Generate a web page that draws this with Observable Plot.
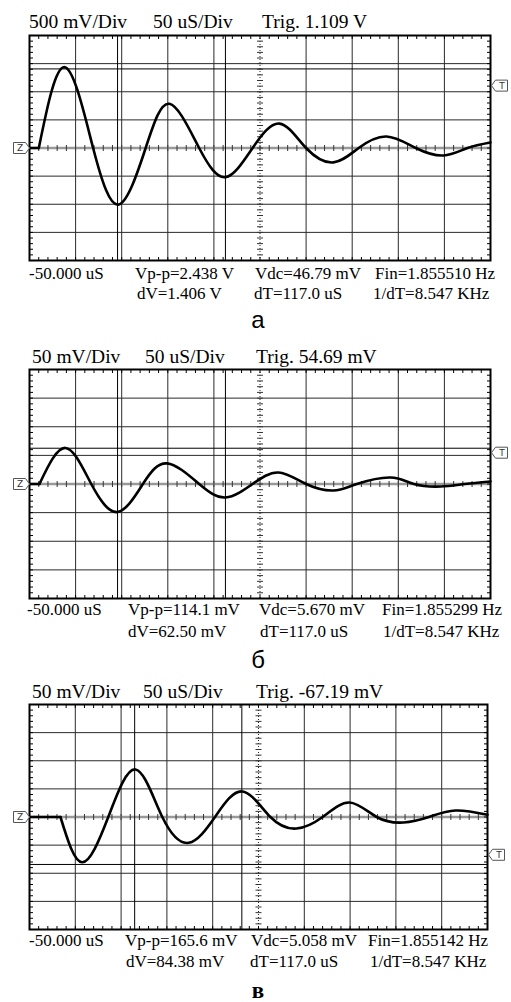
<!DOCTYPE html>
<html><head><meta charset="utf-8">
<script src="https://cdn.jsdelivr.net/npm/d3@7"></script>
<script src="https://cdn.jsdelivr.net/npm/@observablehq/plot@0.6"></script>
<style>
body{margin:0;background:#fff;}
#page{position:relative;width:511px;height:1002px;overflow:hidden;font-family:"Liberation Serif","Times New Roman",serif;color:#000;}
.t{position:absolute;white-space:nowrap;line-height:1;}
.h{font-size:19.5px;}
.f{font-size:17px;}
.cap{font-size:24px;}
#page svg{position:absolute;left:0;}
</style></head><body><div id="page"></div>
<script>
// ---------- data (time in uS; voltage in V for panel a, mV for panels б and в) ----------
// points: trigger start, peaks, troughs and zero crossings
const p1Time = [-50,-39.9,-11.7,19,46.9,76,101.8,134,162.6,192,221.1,250,279.7,307,337.2,369,399,425,450];
const p1Volt = [0,0,1.437,0,-1.005,0,0.786,0,-0.519,0,0.434,0,-0.256,0,0.204,0,-0.133,0,0.098];
const p2Time = [-50,-39.2,-11,17,45.2,73,99.3,134,162.6,192,220,250,279.7,305,341.5,367,395.8,422,450];
const p2Volt = [0,0,63,0,-49,0,36,0,-23.6,0,20.1,0,-11.4,0,11.4,0,-4.4,0,4.4];
const p3Time = [-50,-16.2,7.5,36,65.7,95,123.9,152.5,182.2,213,241.5,270,299.3,329,358.3,386,415,450];
const p3Volt = [0,0,-80.4,0,84.5,0,-45.9,0,45.4,0,-20.5,0,25.8,0,-9.8,0,11.6,4];

const voltsPerDiv = [0.5, 50, 50];
const trigLevels = [1.109, 54.69, -67.19];
const cursorTimes = [[45.5,162.5],[45.5,162.5],[64.8,181.8]];
const cursorLevels = [1.406, 62.5, -84.38];
const gridTimes = [0,50,100,150,250,300,350,400];
const gridDivs = [-3,-2,-1,1,2,3];

const headers = [
  ["500 mV/Div","50 uS/Div","Trig. 1.109 V"],
  ["50 mV/Div","50 uS/Div","Trig. 54.69 mV"],
  ["50 mV/Div","50 uS/Div","Trig. -67.19 mV"]
];
const footRow1 = [
  ["-50.000 uS","Vp-p=2.438 V","Vdc=46.79 mV","Fin=1.855510 Hz"],
  ["-50.000 uS","Vp-p=114.1 mV","Vdc=5.670 mV","Fin=1.855299 Hz"],
  ["-50.000 uS","Vp-p=165.6 mV","Vdc=5.058 mV","Fin=1.855142 Hz"]
];
const footRow2 = [
  ["dV=1.406 V","dT=117.0 uS","1/dT=8.547 KHz"],
  ["dV=62.50 mV","dT=117.0 uS","1/dT=8.547 KHz"],
  ["dV=84.38 mV","dT=117.0 uS","1/dT=8.547 KHz"]
];
const captions = ["а","б","в"];

// ---------- layout ----------
const layouts = [
  {top:35,bottom:260,right:490,hY:28,hX:[29,153,262],f1Y:279,f1X:[29,135,255,375],f2Y:299,f2X:[137,254,373],cY:328,capSize:24,capFont:'"Liberation Sans",Arial,sans-serif',capWeight:"normal"},
  {top:369,bottom:598,right:490,hY:363,hX:[32,145,256],f1Y:615,f1X:[27,128,259,382],f2Y:637,f2X:[128,260,383],cY:668,capSize:24,capFont:'"Liberation Sans",Arial,sans-serif',capWeight:"normal"},
  {top:704,bottom:929,right:487,hY:698,hX:[32,143,256],f1Y:946,f1X:[29,125,251,368],f2Y:967,f2X:[126,250,370],cY:998,capSize:23,capFont:'"Liberation Serif","Times New Roman",serif',capWeight:"bold"}
];
const series = [[p1Time,p1Volt],[p2Time,p2Volt],[p3Time,p3Volt]];

const page = document.getElementById("page");
function addText(str, cls, x, baseline, size, extra) {
  const d = document.createElement("div");
  d.className = "t " + cls;
  d.textContent = str;
  d.style.left = x + "px";
  d.style.fontSize = size + "px";
  d.style.top = (baseline - 0.8375 * size) + "px";
  if (extra) Object.assign(d.style, extra);
  page.appendChild(d);
}

const vTick = (a, b) => ({draw(ctx){ ctx.moveTo(0, a); ctx.lineTo(0, b); }});
const hTick = (a, b) => ({draw(ctx){ ctx.moveTo(a, 0); ctx.lineTo(b, 0); }});
const zShape = {draw(ctx){ ctx.moveTo(0,0); ctx.lineTo(-4,-5.5); ctx.lineTo(-16,-5.5); ctx.lineTo(-16,5.5); ctx.lineTo(-4,5.5); ctx.closePath(); }};
const tShape = {draw(ctx){ ctx.moveTo(1,0); ctx.lineTo(5,-5.5); ctx.lineTo(17,-5.5); ctx.lineTo(17,5.5); ctx.lineTo(5,5.5); ctx.closePath(); }};

series.forEach(([time, volt], i) => {
  const L = layouts[i];
  const vd = voltsPerDiv[i];
  const m = 12;
  const h = L.bottom - L.top;
  const pts = time.map((t, k) => ({t, v: volt[k]}));
  const flat = pts.slice(0, 2);
  const osc = pts.slice(1);
  const minorT = d3.range(-50, 450.001, 10);
  const minorV = d3.range(-20, 21).map(k => k * 0.2 * vd);
  const top = 4 * vd, bot = -4 * vd;
  const svg = Plot.plot({
    width: 511,
    height: h + 2 * m,
    marginTop: m, marginBottom: m, marginLeft: 29, marginRight: 511 - L.right,
    style: {background: "transparent", overflow: "visible"},
    x: {domain: [-50, 450], axis: null},
    y: {domain: [bot, top], axis: null},
    marks: [
      Plot.ruleX(gridTimes, {stroke: "#2a2a2a", strokeWidth: 1}),
      Plot.ruleY(gridDivs.map(d => d * vd), {stroke: "#2a2a2a", strokeWidth: 1}),
      Plot.ruleX([200], {stroke: "#222", strokeWidth: 1, strokeDasharray: "1,2"}),
      Plot.ruleY([0], {stroke: "#999", strokeWidth: 2.5}),
      Plot.ruleX(cursorTimes[i], {stroke: "#000", strokeWidth: 1}),
      Plot.ruleY([cursorLevels[i]], {stroke: "#000", strokeWidth: 1}),
      Plot.dot(minorT, {x: d => d, y: () => top, symbol: vTick(0, 3.5), stroke: "#000", fill: "none", strokeWidth: 1}),
      Plot.dot(minorT, {x: d => d, y: () => bot, symbol: vTick(-3.5, 0), stroke: "#000", fill: "none", strokeWidth: 1}),
      Plot.dot(minorT, {x: d => d, y: () => 0, symbol: vTick(-3, 3), stroke: "#333", fill: "none", strokeWidth: 1}),
      Plot.dot(minorV, {x: () => -50, y: d => d, symbol: hTick(0, 3.5), stroke: "#000", fill: "none", strokeWidth: 1}),
      Plot.dot(minorV, {x: () => 450, y: d => d, symbol: hTick(-3.5, 0), stroke: "#000", fill: "none", strokeWidth: 1}),
      Plot.dot(minorV, {x: () => 200, y: d => d, symbol: hTick(-3, 3), stroke: "#333", fill: "none", strokeWidth: 1}),
      Plot.line(flat, {x: "t", y: "v", stroke: "#000", strokeWidth: 2.6}),
      Plot.line(osc, {x: "t", y: "v", curve: "natural", stroke: "#000", strokeWidth: 2.6, strokeLinejoin: "round"}),
      Plot.frame({stroke: "#000", strokeWidth: 2}),
      Plot.dot([0], {x: () => -50, y: d => d, symbol: zShape, fill: "#fff", stroke: "#555", strokeWidth: 1}),
      Plot.text(["Z"], {x: () => -50, y: () => 0, text: d => d, dx: -9.5, fontSize: 9, fontFamily: "DejaVu Sans", fill: "#333"}),
      Plot.dot([trigLevels[i]], {x: () => 450, y: d => d, symbol: tShape, fill: "#fff", stroke: "#555", strokeWidth: 1}),
      Plot.text(["T"], {x: () => 450, y: () => trigLevels[i], text: d => d, dx: 11.5, fontSize: 9, fontFamily: "DejaVu Sans", fill: "#333"})
    ]
  });
  svg.style.top = (L.top - m) + "px";
  page.appendChild(svg);

  headers[i].forEach((s, k) => addText(s, "h", L.hX[k], L.hY, 19.5));
  footRow1[i].forEach((s, k) => addText(s, "f", L.f1X[k], L.f1Y, 17));
  footRow2[i].forEach((s, k) => addText(s, "f", L.f2X[k], L.f2Y, 17));
  addText(captions[i], "cap", 258, L.cY, L.capSize, {fontFamily: L.capFont, fontWeight: L.capWeight, transform: "translateX(-50%)"});
});
</script>
</body></html>
